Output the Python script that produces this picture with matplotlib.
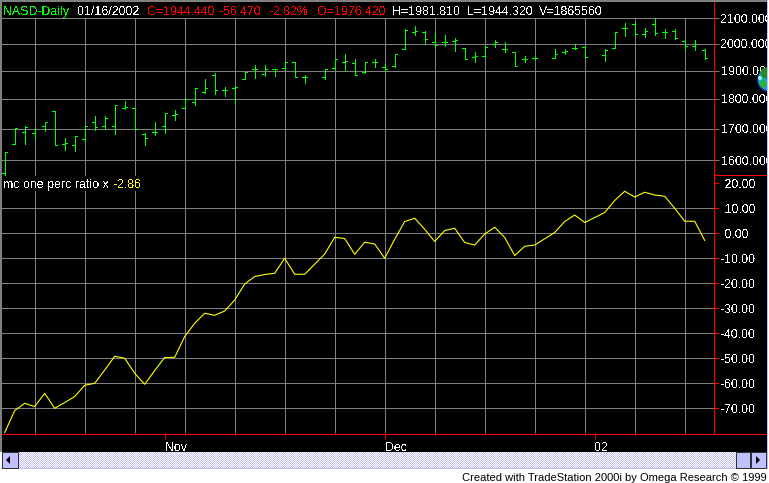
import matplotlib
matplotlib.use('Agg')
import matplotlib.pyplot as plt
from matplotlib.patches import Rectangle, Circle
from matplotlib.ticker import NullLocator
import numpy as np

nan = float('nan')

# NASD daily bars, nan = no bar that day
opens = [1561, 1652, 1690, 1687, 1707, 1757, 1652, 1646, 1666, 1722, 1709, 1709, 1768, 1768, 1684, 1690, 1707, 1744, 1770, 1790,
         1824, 1884, 1831, 1838, 1871, 1907, 1887, 1904, 1910, 1930, 1875, nan, 1878, 1911, 1933, 1926, 1895, 1930, 1914, 1917,
         1981, 2045, 2044, 2007, 2008, 2011, 1985, 1949, 1952, 2000, 1980, 1970, 1942, 1946, nan, 1948, 1968, 1985, 1988, nan,
         1957, 1985, 2061, 2076, 2037, 2077, 2044, 2051, 2011, 1993, 1976.42]
highs = [1626, 1703, 1709, 1698, 1723, 1757, 1671, 1676, 1710, 1743, 1740, 1777, 1793, 1768, 1687, 1723, 1750, 1763, 1802, 1838,
         1869, 1890, 1841, 1846, 1893, 1922, 1922, 1907, 1933, 1930, 1883, nan, 1904, 1941, 1963, 1941, 1933, 1941, 1926, 1963,
         2056, 2069, 2049, 2040, 2035, 2024, 1985, 1967, 1990, 2013, 2008, 1970, 1954, 1953, nan, 1981, 1981, 2000, 1990, nan,
         1979, 2044, 2080, 2087, 2060, 2100, 2057, 2059, 2016, 2013, 1981.81]
lows = [1556, 1652, 1651, 1663, 1692, 1648, 1633, 1628, 1660, 1696, 1700, 1683, 1766, 1700, 1647, 1680, 1686, 1729, 1769, 1779,
        1820, 1815, 1809, 1781, 1868, 1874, 1880, 1880, 1901, 1878, 1854, nan, 1871, 1903, 1903, 1885, 1890, 1912, 1899, 1914,
        1980, 2035, 2000, 1988, 1993, 1973, 1943, 1931, 1949, 1988, 1969, 1917, 1932, 1939, nan, 1947, 1960, 1979, 1949, nan,
        1935, 1984, 2029, 2033, 2027, 2035, 2023, 2019, 1978, 1975, 1944.32]
closes = [1626, 1703, 1706, 1698, 1722, 1648, 1654, 1675, 1710, 1706, 1736, 1777, 1772, 1700, 1670, 1690, 1750, 1747, 1798, 1838,
          1838, 1829, 1831, 1841, 1893, 1907, 1904, 1904, 1933, 1878, 1876, nan, 1904, 1941, 1936, 1885, 1933, 1930, 1906, 1963,
          2052, 2051, 2020, 1995, 2008, 2013, 1943, 1952, 1986, 2005, 1980, 1917, 1944, 1946, nan, 1960, 1973, 1985, 1951, nan,
          1978, 2044, 2061, 2036, 2051, 2043, 2044, 2023, 1991, 2000, 1944.44]

# mc one perc ratio x
ratio = [-79.7, -70.9, -68, -69.3, -64, -70, -67.7, -65.3, -60.8, -60, -54.7, -49.2, -50, -56, -60.4, -54.9, -49.7, -49.6, -41.3, -36,
         -32, -32.8, -31.1, -26.7, -20.3, -17.3, -16.5, -16, -10, -16.4, -16.4, nan, -8.3, -1.6, -2.1, -8.4, -3.6, -4.3, -10, -2.4,
         4.7, 6, 1.6, -3.3, 1.1, 2, -3.7, -4.7, -0.3, 2.4, -1.7, -8.9, -5.2, -4.7, nan, 0.3, 4.7, 7.3, 4.3, nan,
         8.3, 13.1, 16.8, 14.5, 16.4, 15.3, 14.8, 10, 4.8, 4.8, -2.86]

price_ticks = [1600, 1700, 1800, 1900, 2000, 2100]
price_labels = ['1600.000', '1700.000', '1800.000', '1900.000', '2000.000', '2100.000']
ratio_ticks = [-70, -60, -50, -40, -30, -20, -10, 0, 10, 20]
ratio_labels = ['-70.00', '-60.00', '-50.00', '-40.00', '-30.00', '-20.00', '-10.00', ' 0.00', ' 10.00', ' 20.00']
grid_bars = list(range(3, 71, 5))
month_bars = [16, 38, 59]
month_labels = ['Nov', 'Dec', '02']

W, H = 769, 483
plt.rcParams['font.family'] = ['Liberation Sans', 'DejaVu Sans']
plt.rcParams['font.size'] = 8.9
plt.rcParams['text.antialiased'] = False
plt.rcParams['lines.antialiased'] = False

GREEN = '#00ff00'
RED = '#ff0000'
YELLOW = '#ffff00'
GRID = '#808080'
LAV = '#c0c0ff'
PX = 0.72

fig = plt.figure(figsize=(W / 100, H / 100), dpi=100, facecolor='white')

# window chrome, in pixels
bg = fig.add_axes([0, 0, 1, 1], zorder=0)
bg.set_xlim(0, W)
bg.set_ylim(H, 0)
bg.axis('off')
bg.add_patch(Rectangle((0, 0), 767, 452, color=GRID, lw=0))
bg.add_patch(Rectangle((1.5, 1.5), 766, 451, color='black', lw=0))
# dithered scrollbar track
rows, cols = np.indices((16, 720))
track = np.where(((rows + cols) % 2 == 0)[..., None], [1, 1, 1], [0.75, 0.75, 1])
bg.imshow(track, extent=(18, 738, 468, 452), interpolation='nearest', aspect='auto', zorder=1)
bg.set_xlim(0, W)
bg.set_ylim(H, 0)
bg.add_patch(Rectangle((1, 468), 766, 1, color=LAV, lw=0, zorder=2))
for bx, bw in [(2, 16), (736, 14), (751, 15)]:
    bg.add_patch(Rectangle((bx, 452), bw, 16, facecolor=LAV, edgecolor='#303030', lw=PX, zorder=2))
bg.fill([10, 6, 10], [456, 460, 464], color='black', lw=0, zorder=3)
bg.fill([756, 760, 756], [456, 460, 464], color='black', lw=0, zorder=3)


def px_axes(x0, x1, y0, y1):
    return fig.add_axes([x0 / W, 1 - y1 / H, (x1 - x0) / W, (y1 - y0) / H], zorder=2, facecolor='none')


LEFT, RIGHT = 2, 714.3
XLIM = ((LEFT - 4.7) / 10, (RIGHT - 4.7) / 10)

# price panel
top = px_axes(LEFT, RIGHT, 18.3, 175)
top.set_yscale('log')
top.set_xlim(XLIM)
top.set_ylim(1555.5, 2100)
top.yaxis.set_minor_locator(NullLocator())
top.set_yticks(price_ticks)
top.set_yticklabels(price_labels, color='white')
top.yaxis.tick_right()
top.tick_params(axis='y', color=GRID, length=3.6, width=PX, pad=1)
top.set_xticks(grid_bars)
top.tick_params(axis='x', length=0, labelbottom=False)
top.grid(True, color=GRID, lw=PX)
top.set_axisbelow(True)

x = np.arange(len(opens))
for i in x:
    if np.isnan(opens[i]):
        continue
    top.plot([i, i], [lows[i], highs[i]], color=GREEN, lw=PX, zorder=3, clip_on=False, solid_capstyle='butt')
    top.plot([i - 0.25, i], [opens[i], opens[i]], color=GREEN, lw=PX, zorder=3, clip_on=False, solid_capstyle='butt')
    top.plot([i, i + 0.25], [closes[i], closes[i]], color=GREEN, lw=PX, zorder=3, clip_on=False, solid_capstyle='butt')
top.set_xlim(XLIM)
top.set_ylim(1555.5, 2100)

# ratio panel
bot = px_axes(LEFT, RIGHT, 175, 433.3)
bot.set_xlim(XLIM)
bot.set_ylim(-80, 23.3)
bot.set_yticks(ratio_ticks)
bot.set_yticklabels(ratio_labels, color='white')
bot.yaxis.tick_right()
bot.tick_params(axis='y', color=RED, length=3.6, width=PX, pad=1)
bot.xaxis.remove_overlapping_locs = False
bot.set_xticks(grid_bars)
bot.tick_params(axis='x', color=RED, length=1.5, width=PX, labelbottom=False)
bot.set_xticks(month_bars, minor=True)
bot.set_xticklabels(month_labels, minor=True, color='white', ha='left')
bot.tick_params(axis='x', which='minor', color=RED, length=4.5, width=PX, pad=1.5)
bot.grid(True, which='major', color=GRID, lw=PX)
bot.set_axisbelow(True)
# no grid line at 20
bot.yaxis.get_gridlines()[-1].set_visible(False)

ratio_arr = np.array(ratio)
keep = ~np.isnan(ratio_arr)
bot.plot(x[keep], ratio_arr[keep], color=YELLOW, lw=0.8, zorder=3, antialiased=True)

for ax in (top, bot):
    for side in ('top', 'left', 'bottom'):
        ax.spines[side].set_visible(False)
    ax.spines['right'].set_color(RED)
    ax.spines['right'].set_linewidth(PX)

# red lines and header texts on top of the panels, in pixels
over = fig.add_axes([0, 0, 1, 1], zorder=3, facecolor='none')
over.set_xlim(0, W)
over.set_ylim(H, 0)
over.axis('off')
over.plot([RIGHT, 767], [175, 175], color=RED, lw=PX)
over.plot([LEFT, 767], [433.5, 433.5], color=RED, lw=PX)
over.plot([RIGHT, RIGHT], [2, 433.5], color=RED, lw=PX)
over.add_patch(Rectangle((2, 176), 141, 15, color='black', lw=0))
# earth logo at the right edge
over.add_patch(Circle((769, 80), 12, color='#1828b0', lw=0))
over.add_patch(Circle((769, 79.5), 11, color='#18a8c8', lw=0))
over.add_patch(Circle((766, 73), 5.5, color='#209020', lw=0))
over.add_patch(Circle((763, 84), 3.5, color='#30b030', lw=0))
over.add_patch(Circle((760, 78), 2, color='#a0f0f0', lw=0))
# thin window edge, cuts off the long labels
over.add_patch(Rectangle((767, 0), 1, 469, color=LAV, lw=0, zorder=5))
over.add_patch(Rectangle((768, 0), 1, 469, color='white', lw=0, zorder=5))


def label(px, py, s, color, **kw):
    over.text(px, py, s, color=color, va='baseline', **kw)


label(3, 15, 'NASD-Daily', GREEN)
label(78, 15, '01/16/2002', 'white')
label(147, 15, 'C=1944.440', RED)
label(220, 15, '-56.470', RED)
label(269, 15, '-2.82%', RED)
label(317, 15, 'O=1976.420', RED)
label(392, 15, 'H=1981.810', 'white')
label(467, 15, 'L=1944.320', 'white')
label(539, 15, 'V=1865560', 'white')
label(3, 188, 'mc one perc ratio x', 'white')
label(113, 188, '-2.86', YELLOW)
label(767, 481, 'Created with TradeStation 2000i by Omega Research \u00a9 1999', 'black', ha='right', fontsize=8.0, antialiased=True)

fig.savefig('out.png', dpi=100, facecolor='white')
